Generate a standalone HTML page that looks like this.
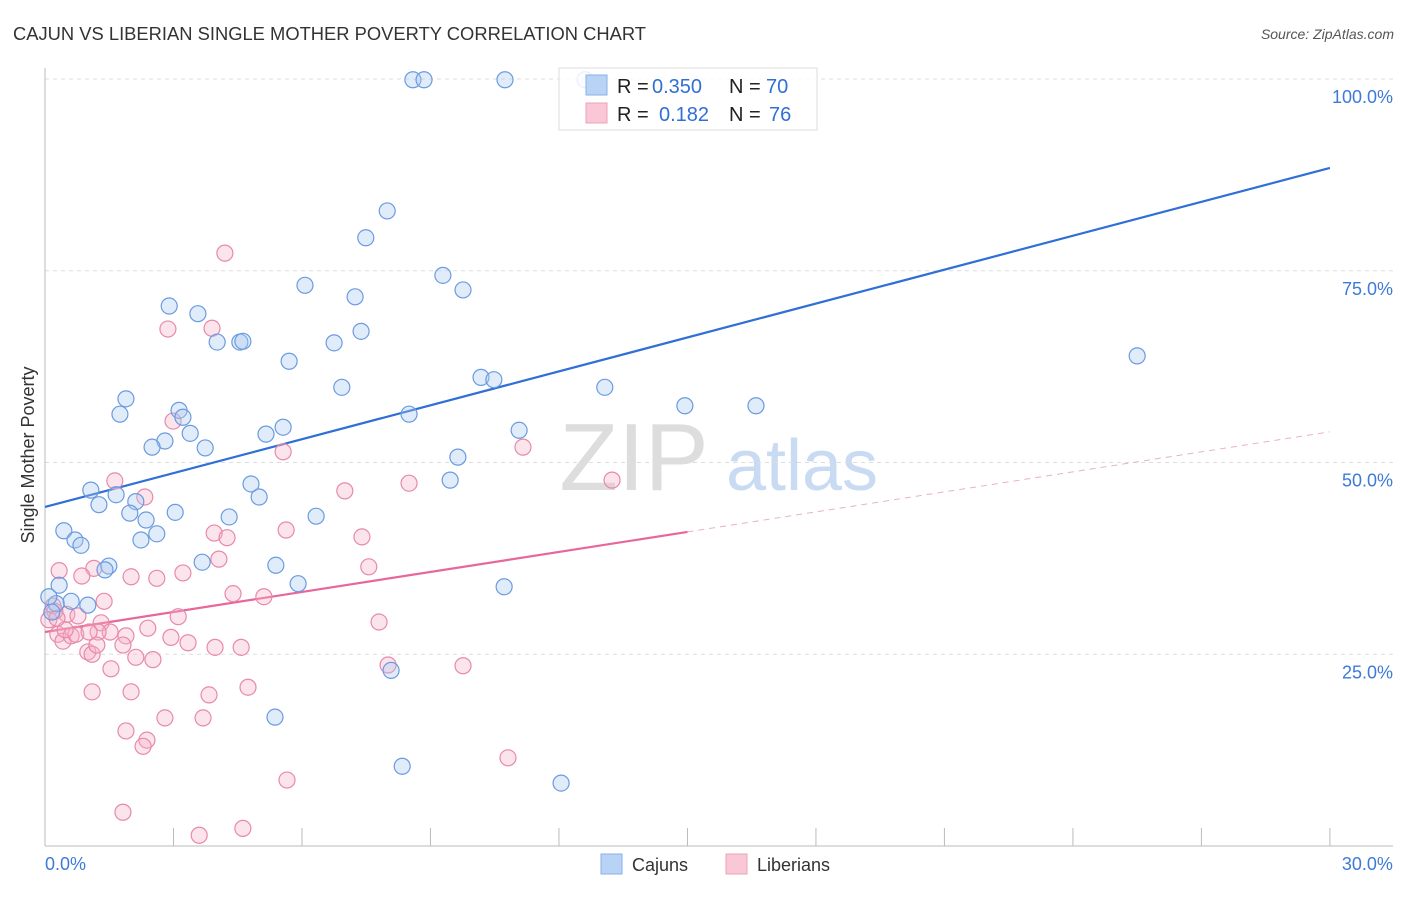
<!DOCTYPE html>
<html><head><meta charset="utf-8"><style>
body{margin:0;background:#fff;font-family:"Liberation Sans",sans-serif}
svg text{font-family:"Liberation Sans",sans-serif}
</style></head><body>
<svg id="chart" width="1406" height="892" viewBox="0 0 1406 892">
<text x="13" y="40" font-size="18" fill="#333" textLength="633" lengthAdjust="spacingAndGlyphs">CAJUN VS LIBERIAN SINGLE MOTHER POVERTY CORRELATION CHART</text>
<text x="1394" y="39" font-size="14" fill="#555" font-style="italic" text-anchor="end">Source: ZipAtlas.com</text>
<text transform="translate(34,455) rotate(-90)" font-size="18" fill="#333" text-anchor="middle">Single Mother Poverty</text>
<g><text x="634" y="490" font-size="96" fill="#ddd" text-anchor="middle" font-family="Liberation Serif,serif">ZIP</text><text x="802" y="490" font-size="72" fill="#c9daf3" text-anchor="middle">atlas</text></g>
<g id="grid"></g><g id="axes"></g><g id="lines"></g><g id="pts"></g>
<g>
<rect x="559" y="68" width="258" height="62" fill="#fff" fill-opacity="0.85" stroke="#ddd"/>
<rect x="586" y="75" width="21" height="20" fill="#b9d3f5" stroke="#89b2ea"/>
<rect x="586" y="103" width="21" height="20" fill="#f9c7d6" stroke="#eea2bb"/>
<text x="617" y="93" font-size="20" fill="#222">R =</text>
<text x="652" y="93" font-size="20" fill="#2f6fd6">0.350</text>
<text x="729" y="93" font-size="20" fill="#222">N =</text>
<text x="766" y="93" font-size="20" fill="#2f6fd6">70</text>
<text x="617" y="121" font-size="20" fill="#222">R =</text>
<text x="659" y="121" font-size="20" fill="#2f6fd6">0.182</text>
<text x="729" y="121" font-size="20" fill="#222">N =</text>
<text x="769" y="121" font-size="20" fill="#2f6fd6">76</text>
</g>
<g>
<rect x="601" y="854" width="21" height="20" fill="#b9d3f5" stroke="#89b2ea"/>
<text x="632" y="871" font-size="18" fill="#333">Cajuns</text>
<rect x="726" y="854" width="21" height="20" fill="#f9c7d6" stroke="#eea2bb"/>
<text x="757" y="871" font-size="18" fill="#333">Liberians</text>
</g>
</svg>
<script>
const blueX=[8.59,8.85,10.74,12.61,7.99,7.49,9.29,9.76,6.07,7.24,2.90,3.57,7.38,4.02,4.55,4.62,6.75,5.70,25.50,6.93,10.18,10.48,13.07,14.94,16.60,1.89,1.75,3.13,3.22,8.50,5.56,5.16,11.07,3.39,2.80,2.50,3.74,9.64,9.46,4.81,1.07,1.66,5.00,1.26,2.12,1.98,2.36,3.04,4.30,6.33,0.44,0.70,0.84,2.24,2.61,3.67,5.39,1.49,1.40,0.33,5.91,10.72,0.61,0.26,1.00,0.09,0.16,8.08,5.37,8.34,12.05];
const blueY=[99.9,99.9,99.9,99.9,82.8,79.3,74.4,72.5,73.1,71.6,70.4,69.4,67.1,65.7,65.7,65.8,65.6,63.2,63.9,59.8,61.1,60.8,59.8,57.4,57.4,58.3,56.3,56.8,55.9,56.3,54.6,53.7,54.2,53.8,52.8,52.0,51.9,50.7,47.7,47.2,46.4,45.8,45.5,44.5,44.9,43.4,42.5,43.5,42.9,43.0,41.1,39.9,39.2,39.9,40.7,37.0,36.6,36.5,36.0,34.0,34.2,33.8,31.9,31.6,31.4,32.5,30.5,22.9,16.8,10.4,8.2];
const pinkX=[4.20,2.87,3.90,2.99,5.56,11.16,13.24,8.50,7.00,1.63,2.33,3.95,4.25,5.63,7.40,4.06,1.14,0.33,0.86,2.01,2.61,3.22,7.56,4.39,5.11,1.38,0.19,0.51,0.77,3.11,2.40,7.80,1.31,1.52,1.89,1.24,0.30,0.42,0.61,0.72,1.03,1.00,1.10,1.82,1.21,2.94,3.34,3.97,4.58,2.12,2.52,1.54,8.01,9.76,1.10,2.01,3.83,4.74,2.80,3.69,1.89,2.38,2.29,10.81,5.65,1.82,4.62,3.60,0.23,0.09,0.47,0.28];
const pinkY=[77.3,67.4,67.5,55.4,51.4,52.0,47.7,47.3,46.3,47.6,45.5,40.8,40.2,41.2,40.3,37.4,36.2,35.9,35.2,35.1,34.9,35.6,36.4,32.9,32.5,31.9,31.3,30.2,30.0,29.9,28.4,29.2,29.1,27.9,27.4,27.9,27.6,26.7,27.4,27.6,27.9,25.3,25.0,26.2,26.2,27.2,26.5,25.9,25.9,24.6,24.3,23.1,23.6,23.5,20.1,20.1,19.7,20.7,16.7,16.7,15.0,13.8,13.0,11.5,8.6,4.4,2.3,1.4,30.6,29.5,28.2,29.7];
const yTicks=[25,50,75,100];
const yTickLabels=["25.0%","50.0%","75.0%","100.0%"];
const xEnds=[0,30];
const xEndLabels=["0.0%","30.0%"];
const blueTrend=[44.2,88.4];
const pinkTrend=[27.9,54.0];
const pinkSolidEnd=15;

const NS="http://www.w3.org/2000/svg";
const sx=v=>45+v*42.83, sy=v=>846-v*7.67;
function mk(tag,attrs,parent){const e=document.createElementNS(NS,tag);for(const k in attrs)e.setAttribute(k,attrs[k]);parent.appendChild(e);return e;}
const grid=document.getElementById('grid'),axes=document.getElementById('axes'),lines=document.getElementById('lines'),pts=document.getElementById('pts');
yTicks.forEach((t,i)=>{
 const l=mk('line',{x1:45,x2:1393,y1:sy(t),y2:sy(t),stroke:'#ddd','stroke-dasharray':'4,4'},grid);
 
 
 const tx=mk('text',{x:1393,y:sy(t)+24,'font-size':18,fill:'#3d7ad8','text-anchor':'end'},grid);
 tx.textContent=yTickLabels[i];
 
 
});
const xa=mk('line',{x1:45,x2:1393,y1:846,y2:846,stroke:'#bbb'},axes);


const ya=mk('line',{x1:45,x2:45,y1:68,y2:846,stroke:'#bbb'},axes);


for(let i=0;i<=10;i++){const v=i*3;const t=mk('line',{x1:sx(v),x2:sx(v),y1:828,y2:846,stroke:'#bbb'},axes);
 
 }
xEnds.forEach((v,i)=>{const t=mk('text',{x:sx(v)+(i?63:0),y:870,'font-size':18,fill:'#3d7ad8','text-anchor':i?'end':'start'},axes);
 t.textContent=xEndLabels[i];
 
 });
function dot(x,y,f,s,name){const c=mk('circle',{cx:sx(x),cy:sy(y),r:8,fill:f,'fill-opacity':0.35,stroke:s,'stroke-width':1.2},pts);
 
 }
pinkX.forEach((x,i)=>dot(x,pinkY[i],'#f7b3c8','#e889a8','liberian-point'));
blueX.forEach((x,i)=>dot(x,blueY[i],'#a9c8f2','#6a9be0','cajun-point'));
const bl=mk('line',{x1:sx(0),y1:sy(blueTrend[0]),x2:sx(30),y2:sy(blueTrend[1]),stroke:'#2f6fd6','stroke-width':2.2},lines);


const pm=pinkTrend[0]+(pinkTrend[1]-pinkTrend[0])*pinkSolidEnd/30;
const pl=mk('line',{x1:sx(0),y1:sy(pinkTrend[0]),x2:sx(pinkSolidEnd),y2:sy(pm),stroke:'#e8679a','stroke-width':2.2},lines);


const pd=mk('line',{x1:sx(pinkSolidEnd),y1:sy(pm),x2:sx(30),y2:sy(pinkTrend[1]),stroke:'#eab0c4','stroke-width':1,'stroke-dasharray':'6,5'},lines);


</script>
</body></html>
